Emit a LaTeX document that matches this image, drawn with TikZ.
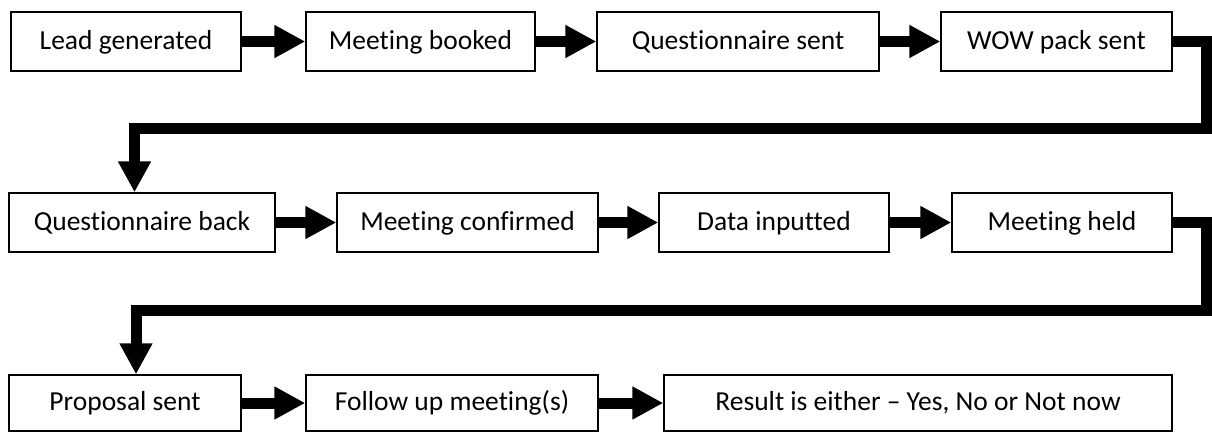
\documentclass[tikz,border=0pt]{standalone}
\usepackage{fontspec}
\setmainfont{Carlito}[Ligatures=NoCommon]
\usetikzlibrary{arrows.meta}
\begin{document}
\begin{tikzpicture}[x=1pt,y=-1pt,
  box/.style={draw=black, line width=1.4pt, minimum height=59pt, inner sep=0pt,
    text height=20pt, text depth=5pt,
    font=\fontsize{27.5}{32}\selectfont, text=black},
  lowbox/.style={box, minimum height=56pt},
  flow/.style={line width=11pt, -{Triangle[length=31pt,width=31pt]}},
  loop/.style={line width=11pt, line join=miter, -{Triangle[length=31pt,width=31pt]}}]
\useasboundingbox (0,0) rectangle (1212,432);
% row 1
\node[box, minimum width=230pt] (b1) at (126,41.5) {Lead generated};
\node[box, minimum width=229pt] (b2) at (420.5,41.5) {Meeting booked};
\node[box, minimum width=282pt] (b3) at (738,41.5) {Questionnaire sent};
\node[box, minimum width=231pt] (b4) at (1056.5,41.5) {WOW pack sent};
% row 2
\node[box, minimum width=266pt] (b5) at (142,222.5) {Questionnaire back};
\node[box, minimum width=261pt] (b6) at (467.5,222.5) {Meeting confirmed};
\node[box, minimum width=230pt] (b7) at (774,222.5) {Data inputted};
\node[box, minimum width=220pt] (b8) at (1062,222.5) {Meeting held};
% row 3
\node[lowbox, minimum width=232pt] (b9) at (125,403) {Proposal sent};
\node[lowbox, minimum width=292pt] (b10) at (452,403) {Follow up meeting(s)};
\node[lowbox, minimum width=508pt] (b11) at (918,403) {Result is either – Yes, No or Not now};
% straight arrows
\draw[flow] (b1.east) -- (b2.west);
\draw[flow] (b2.east) -- (b3.west);
\draw[flow] (b3.east) -- (b4.west);
\draw[flow] (b5.east) -- (b6.west);
\draw[flow] (b6.east) -- (b7.west);
\draw[flow] (b7.east) -- (b8.west);
\draw[flow] (b9.east |- b9.center) -- (b10.west |- b9.center);
\draw[flow] (b10.east |- b10.center) -- (b11.west |- b10.center);
% return connectors
\coordinate (r1) at (1206.5,128);
\coordinate (l1) at (134.5,128);
\draw[loop] (b4.east) -| (r1) -- (l1) -- (l1 |- b5.north);
\coordinate (r2) at (1206.5,310);
\coordinate (l2) at (136,310);
\draw[loop] (b8.east) -| (r2) -- (l2) -- (l2 |- b9.north);
\end{tikzpicture}
\end{document}
